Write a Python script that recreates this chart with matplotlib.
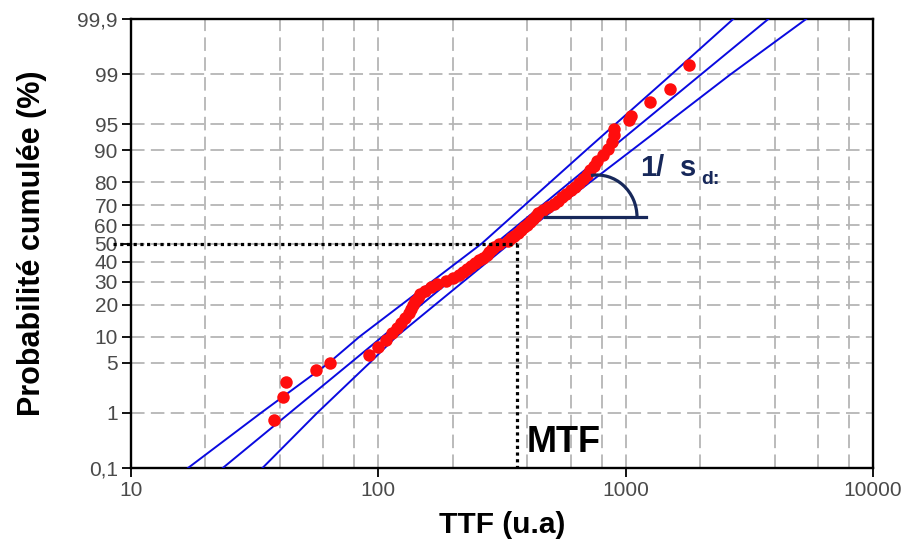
import numpy as np
import matplotlib
matplotlib.use('Agg')
import matplotlib.pyplot as plt
from matplotlib.patches import Arc
from matplotlib.ticker import FixedLocator, NullLocator
from statistics import NormalDist

plt.rcParams['font.family'] = ['Liberation Sans', 'DejaVu Sans']

# points : TTF (u.a) et probabilité cumulée (%)
ttf_pts = [37.8, 41.0, 42.2, 56.2, 64.0,
           92.1, 100.0, 107.5, 113.6, 118.7, 123.5, 128.1, 132.6, 135.7, 138.4,
           141.1, 144.2, 147.6, 154.2, 163.3, 173.4, 187.0, 199.5, 211.0, 219.8,
           228.3, 237.1, 246.1, 255.3, 264.5, 274.2, 280.9, 287.5, 293.9, 307.5,
           333.4, 343.8, 354.8, 366.2, 377.6, 388.3, 398.5, 409.0, 420.2, 432.0,
           443.8, 464.0, 486.6, 511.6, 533.4, 554.0, 576.1, 599.5, 622.3, 646.4,
           672.0, 697.4, 718.6, 741.7, 769.0, 809.3, 849.2, 881.5, 893.8,
           895.0, 1028.0, 1048.0, 1250.0, 1517.0, 1795.0]
prob_pts = [0.76, 1.74, 2.87, 4.1, 5.0,
            6.3, 7.8, 9.3, 10.8, 12.3, 13.8, 15.3, 16.8, 18.3, 19.8,
            21.3, 22.8, 24.3, 25.8, 27.3, 28.8, 30.3, 31.8, 33.3, 34.8,
            36.3, 37.8, 39.3, 40.8, 42.3, 43.8, 45.3, 46.8, 48.3, 49.8,
            51.3, 52.8, 54.3, 55.8, 57.3, 58.8, 60.3, 61.8, 63.3, 64.8,
            66.3, 67.8, 69.3, 70.8, 72.3, 73.8, 75.3, 76.8, 78.3, 79.8,
            81.3, 82.8, 84.3, 85.8, 87.3, 88.8, 90.3, 91.8, 93.3,
            94.2, 95.5, 96.0, 97.4, 98.3, 99.3]

# droite d'ajustement et bornes de confiance
fit_prob = [0.1, 99.9]
fit_ttf = [23.5, 3776]
bound_prob = [0.1, 1, 5, 10, 50, 90, 99, 99.9]
upper_ttf = [17.0, 33.7, 63.0, 84.0, 262, 690, 1531, 2723]
lower_ttf = [34.0, 56.8, 92.1, 118.2, 340, 1057, 2650, 5370]

mtf = 363

yticks = [0.1, 1, 5, 10, 20, 30, 40, 50, 60, 70, 80, 90, 95, 99, 99.9]
ylabels = ['0,1', '1', '5', '10', '20', '30', '40', '50', '60', '70', '80', '90', '95', '99', '99,9']
xticks = [10, 100, 1000, 10000]
xlabels = ['10', '100', '1000', '10000']

_nd = NormalDist()
_ppf = np.vectorize(_nd.inv_cdf, otypes=[float])
_cdf = np.vectorize(_nd.cdf, otypes=[float])


def forward(p):
    q = np.clip(np.asarray(p, dtype=float) / 100.0, 1e-9, 1 - 1e-9)
    return _ppf(q)


def inverse(z):
    return _cdf(np.asarray(z, dtype=float)) * 100.0


fig = plt.figure(figsize=(9.06, 5.46), dpi=100)
ax = fig.add_axes([131 / 906, 1 - 468 / 546, 742 / 906, 449 / 546])

ax.set_xscale('log')
ax.set_yscale('function', functions=(forward, inverse))
ax.set_xlim(10, 10000)
ax.set_ylim(0.1, 99.9)

ax.set_xticks(xticks, labels=xlabels)
minor = [m * d for d in (10, 100, 1000) for m in (2, 4, 6, 8)]
ax.xaxis.set_minor_locator(FixedLocator(minor))
ax.yaxis.set_major_locator(FixedLocator(yticks))
ax.set_yticklabels(ylabels)
ax.yaxis.set_minor_locator(NullLocator())

gridstyle = dict(color='#b5b5b5', linestyle=(0, (7.5, 3.5)), linewidth=1.3)
ax.grid(True, which='both', axis='x', **gridstyle)
ax.grid(True, which='major', axis='y', **gridstyle)
ax.set_axisbelow(True)

ax.tick_params(which='major', direction='out', length=6.5, width=1.3,
               color='black', labelcolor='#4a4a4a', labelsize=15, pad=3)
ax.tick_params(which='minor', length=0)
for s in ax.spines.values():
    s.set_linewidth(1.7)

# lignes bleues
blue = '#0a0ae0'
ax.plot(upper_ttf, bound_prob, color=blue, lw=1.4, zorder=3)
ax.plot(fit_ttf, fit_prob, color=blue, lw=1.4, zorder=3)
ax.plot(lower_ttf, bound_prob, color=blue, lw=1.4, zorder=3)

# points
ax.plot(ttf_pts, prob_pts, 'o', color='#ff0d0d', ms=9, mec='none', zorder=4)

# MTF
dot = dict(color='black', lw=2.3, linestyle=(0, (1, 1.1)), zorder=5)
ax.plot([10 / 1.18, mtf], [50, 50], clip_on=False, **dot)
ax.plot([mtf, mtf], [50, 0.1], **dot)
ax.text((527 - 131) / 742, (468 - 452) / 449, 'MTF', transform=ax.transAxes,
        fontsize=26, fontweight='bold', color='black', va='baseline', ha='left')

# pente 1/s_d
navy = '#17285a'
ax.plot([(545 - 131) / 742, (646 - 131) / 742], [0.559, 0.559],
        transform=ax.transAxes, color=navy, lw=2.3, zorder=5)
ax.add_patch(Arc(((597 - 131) / 742, 0.559), 80 / 742, 84 / 449, theta1=0, theta2=95,
                 transform=ax.transAxes, color=navy, lw=2.3, zorder=5))
ax.text((640 - 131) / 742, (468 - 176) / 449, '1/', transform=ax.transAxes,
        fontsize=21, fontweight='bold', color=navy, va='baseline', ha='left')
ax.text((680 - 131) / 742, (468 - 176) / 449, 's', transform=ax.transAxes,
        fontsize=21, fontweight='bold', color=navy, va='baseline', ha='left')
ax.text((701 - 131) / 742, (468 - 184) / 449, 'd:', transform=ax.transAxes,
        fontsize=14, fontweight='bold', color=navy, va='baseline', ha='left')

ax.set_xlabel('TTF (u.a)', fontsize=21.5, fontweight='bold', labelpad=8)
ax.set_ylabel('Probabilité cumulée (%)', fontsize=22, fontweight='bold', labelpad=22)

fig.savefig('out.png', dpi=100, facecolor='white')
